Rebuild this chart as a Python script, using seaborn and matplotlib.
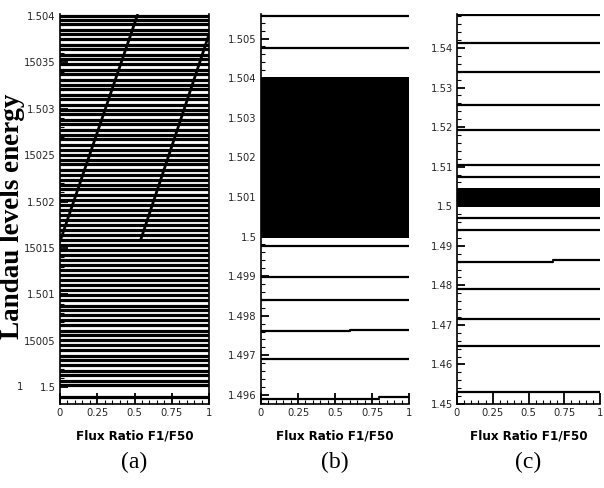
import numpy as np
import pandas as pd
import matplotlib
matplotlib.use("Agg")
import matplotlib.pyplot as plt
import matplotlib.ticker as mticker
from matplotlib import font_manager
import seaborn as sns

# ---------------- data ----------------
# Panel (a): dense Landau levels (offsets from 1.5 in units of 1e-5)
levels_a_off = [2, 7, 13, 18, 24, 29, 34, 40, 45, 51, 56, 61, 67, 72, 78, 83, 88, 94,
                99, 105, 110, 115, 121, 126, 132, 137, 142, 148, 153, 159, 164, 169,
                175, 180, 186, 191, 196, 202, 207, 213, 218, 223, 229, 234, 240, 245,
                250, 256, 261, 267, 272, 277, 283, 288, 294, 299, 304, 310, 315, 321,
                326, 331, 337, 342, 348, 353, 358, 364, 369, 375, 380, 385, 391, 396, 400]
extra_a = [1.49990]
# crossing levels in (a): (x0, E0, x1, E1)
cross_a = [(0.00, 1.50157, 0.52, 1.50401),
           (0.54, 1.50158, 1.00, 1.50380)]

# Panel (b): segments (x0, x1, E)
segs_b = [(0, 1, 1.50558), (0, 1, 1.50477), (0, 1, 1.49975), (0, 1, 1.49897),
          (0, 1, 1.49839), (0, 0.6, 1.49761), (0.6, 1, 1.49765), (0, 1, 1.49691),
          (0, 0.8, 1.49590), (0.8, 1, 1.49595)]
block_b = (1.49997, 1.50402)

# Panel (c): segments (x0, x1, E)
segs_c = [(0, 1, 1.5484), (0, 1, 1.5413), (0, 1, 1.5339), (0, 1, 1.5256),
          (0, 1, 1.5193), (0, 1, 1.5103), (0, 1, 1.5075), (0, 1, 1.4971),
          (0, 1, 1.4941), (0, 0.67, 1.4860), (0.67, 1, 1.4864), (0, 1, 1.4790),
          (0, 1, 1.4714), (0, 1, 1.4646), (0, 1, 1.4530)]
block_c = (1.4999, 1.5045)

yticks_a = [1.5, 1.5005, 1.501, 1.5015, 1.502, 1.5025, 1.503, 1.5035, 1.504]
ylabels_a = ["1.5", "15005", "1.501", "15015", "1.502", "15025", "1.503", "15035", "1.504"]
yticks_b = [1.496, 1.497, 1.498, 1.499, 1.5, 1.501, 1.502, 1.503, 1.504, 1.505]
ylabels_b = ["1.496", "1.497", "1.498", "1.499", "1.5", "1.501", "1.502", "1.503", "1.504", "1.505"]
yticks_c = [1.45, 1.46, 1.47, 1.48, 1.49, 1.5, 1.51, 1.52, 1.53, 1.54]
ylabels_c = ["1.45", "1.46", "1.47", "1.48", "1.49", "1.5", "1.51", "1.52", "1.53", "1.54"]
xticks = [0, 0.25, 0.5, 0.75, 1]
xlabels = ["0", "0.25", "0.5", "0.75", "1"]
panel_tags = ["(a)", "(b)", "(c)"]
xlabel_text = "Flux Ratio F1/F50"
ylabel_text = "Landau levels energy"

# ---------------- style ----------------
sns.set_theme(style="ticks")
names = {f.name for f in font_manager.fontManager.ttflist}
narrow = [n for n in ["Liberation Sans Narrow", "Arial Narrow"] if n in names]
plt.rcParams["font.family"] = narrow + ["DejaVu Sans"]
plt.rcParams["font.stretch"] = "condensed"
plt.rcParams["xtick.direction"] = "in"
plt.rcParams["ytick.direction"] = "in"
tick_fs = 8

fig = plt.figure(figsize=(6.04, 4.88), dpi=100)
fig.patch.set_facecolor("white")

def seg_frame(segs):
    rows = []
    for i, (x0, x1, e) in enumerate(segs):
        rows.append({"seg": i, "x": x0, "E": e})
        rows.append({"seg": i, "x": x1, "E": e})
    return pd.DataFrame(rows)

def style_axes(ax, ylim, yt, yl, minor_y, tag):
    ax.set_xlim(0, 1)
    ax.set_ylim(*ylim)
    ax.set_yticks(yt)
    ax.set_yticklabels(yl)
    ax.set_xticks(xticks)
    ax.set_xticklabels(xlabels)
    ax.xaxis.set_minor_locator(mticker.MultipleLocator(0.05))
    ax.yaxis.set_minor_locator(mticker.MultipleLocator(minor_y))
    ax.tick_params(which="major", length=6, width=1.3, labelsize=tick_fs, pad=3, color="black")
    ax.tick_params(which="minor", length=3, width=0.8, color="black")
    ax.tick_params(axis="x", which="major", length=8)
    for s in ["top", "right"]:
        ax.spines[s].set_visible(False)
    for s in ["left", "bottom"]:
        ax.spines[s].set_linewidth(1.2)
        ax.spines[s].set_color("black")
    ax.set_xlabel(xlabel_text, fontsize=9.5, fontweight="bold", labelpad=8, color="black")
    ax.set_ylabel("")
    ax.annotate(tag, xy=(0.5, 0), xycoords="axes fraction", xytext=(0, -42),
                textcoords="offset points", ha="center", va="center",
                fontsize=17, family=["Liberation Serif", "DejaVu Serif"], color="black")
    ax.set_facecolor("white")

# ---- panel (a)
axa = fig.add_axes([60 / 604, 1 - 404 / 488, 149 / 604, 390 / 488])
segs_a = [(0, 1, 1.5 + o * 1e-5) for o in levels_a_off] + [(0, 1, e) for e in extra_a]
dfa = seg_frame(segs_a)
sns.lineplot(data=dfa, x="x", y="E", units="seg", estimator=None, color="black",
             lw=2.3, ax=axa, legend=False)
cross_rows = []
for i, (x0, e0, x1, e1) in enumerate(cross_a):
    cross_rows += [{"seg": i, "x": x0, "E": e0}, {"seg": i, "x": x1, "E": e1}]
sns.lineplot(data=pd.DataFrame(cross_rows), x="x", y="E", units="seg", estimator=None,
             color="black", lw=2.0, ax=axa, legend=False)
style_axes(axa, (1.49982, 1.50402), yticks_a, ylabels_a, 0.0001, panel_tags[0])
axa.spines["right"].set_visible(True)
axa.spines["right"].set_linewidth(1.2)
axa.spines["right"].set_color("black")
axa.text(-0.27, 1.5, "1", transform=axa.get_yaxis_transform(), ha="center",
         va="center", fontsize=tick_fs)
axa.text(-0.32, 0.48, ylabel_text, transform=axa.transAxes, rotation=90, ha="center",
         va="center", fontsize=19.5, fontweight="bold", color="black",
         family=["Liberation Serif", "DejaVu Serif"])

# ---- panel (b)
axb = fig.add_axes([261 / 604, 1 - 404 / 488, 148 / 604, 390 / 488])
axb.fill_between([0, 1], block_b[0], block_b[1], color="black", lw=0)
sns.lineplot(data=seg_frame(segs_b), x="x", y="E", units="seg", estimator=None,
             color="black", lw=1.6, ax=axb, legend=False)
style_axes(axb, (1.49577, 1.50562), yticks_b, ylabels_b, 0.0002, panel_tags[1])

# ---- panel (c)
axc = fig.add_axes([457 / 604, 1 - 404 / 488, 143 / 604, 390 / 488])
axc.fill_between([0, 1], block_c[0], block_c[1], color="black", lw=0)
sns.lineplot(data=seg_frame(segs_c), x="x", y="E", units="seg", estimator=None,
             color="black", lw=1.6, ax=axc, legend=False)
style_axes(axc, (1.4500, 1.5486), yticks_c, ylabels_c, 0.002, panel_tags[2])

fig.savefig("out.png", dpi=100, facecolor="white")
